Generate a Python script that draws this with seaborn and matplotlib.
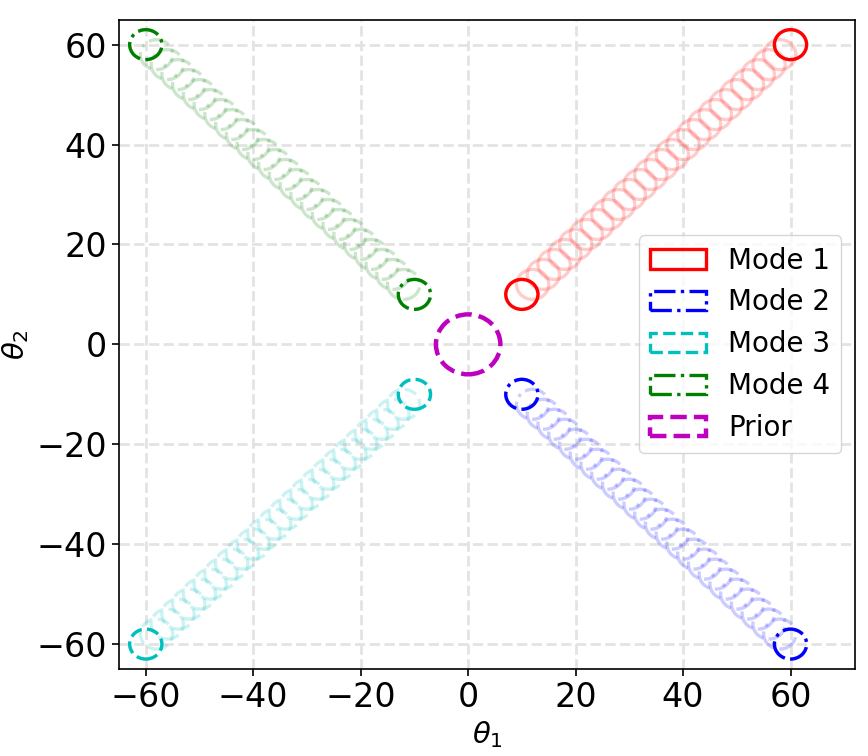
import matplotlib
matplotlib.use("Agg")
import matplotlib.pyplot as plt
from matplotlib.patches import Ellipse
import seaborn as sns

# centres along each mode path (distance from origin along the diagonal)
PATH_STEPS = [10, 12, 14, 16, 18, 20, 22, 24, 26, 28, 30, 32, 34, 36,
              38, 40, 42, 44, 46, 48, 50, 52, 54, 56, 58, 60]
MODE_NAMES = ["Mode 1", "Mode 2", "Mode 3", "Mode 4"]
MODE_SIGNS = [(1, 1), (1, -1), (-1, -1), (-1, 1)]
MODE_COLORS = ["#ff0000", "#0000ff", "#00bfbf", "#008000"]
MODE_STYLES = ["-", "-.", "--", "-."]
MODE_RADIUS = 3
PRIOR_CENTER = (0, 0)
PRIOR_RADIUS = 6
PRIOR_COLOR = "#bf00bf"

sns.set_style("ticks")
plt.rcParams["text.color"] = "black"
plt.rcParams["axes.labelcolor"] = "black"

fig, ax = plt.subplots(figsize=(8.68, 7.56), dpi=100)

LW = 2.4
handles = []
for name, (sx, sy), col, ls in zip(MODE_NAMES, MODE_SIGNS, MODE_COLORS, MODE_STYLES):
    # faint trail of circles
    for s in PATH_STEPS:
        ax.add_patch(Ellipse((sx * s, sy * s), 2 * MODE_RADIUS, 2 * MODE_RADIUS,
                             fill=False, edgecolor=col, linestyle=ls,
                             linewidth=LW, alpha=0.2))
    # start and end in full colour
    for s in (PATH_STEPS[0], PATH_STEPS[-1]):
        ax.add_patch(Ellipse((sx * s, sy * s), 2 * MODE_RADIUS, 2 * MODE_RADIUS,
                             fill=False, edgecolor=col, linestyle=ls, linewidth=LW))
    handles.append(Ellipse((0, 0), 1, 1, fill=False, edgecolor=col,
                           linestyle=ls, linewidth=LW, label=name))

ax.add_patch(Ellipse(PRIOR_CENTER, 2 * PRIOR_RADIUS, 2 * PRIOR_RADIUS, fill=False,
                     edgecolor=PRIOR_COLOR, linestyle="--", linewidth=3.2))
handles.append(Ellipse((0, 0), 1, 1, fill=False, edgecolor=PRIOR_COLOR,
                       linestyle="--", linewidth=3.2, label="Prior"))

ax.set_xlim(-65, 72)
ax.set_ylim(-65, 65)
ax.set_xticks([-60, -40, -20, 0, 20, 40, 60])
ax.set_yticks([-60, -40, -20, 0, 20, 40, 60])
ax.grid(True, linestyle="--", linewidth=2, color="#e3e3e3")
ax.set_axisbelow(True)
for sp in ax.spines.values():
    sp.set_color("black")
    sp.set_linewidth(1.2)
ax.tick_params(labelsize=24, colors="black", width=1.2, length=5)
ax.set_xlabel(r"$\theta_1$", fontsize=21)
ax.set_ylabel(r"$\theta_2$", fontsize=21)

ax.legend(handles=handles, loc="center right", fontsize=20)

fig.subplots_adjust(left=0.137, right=0.985, top=0.974, bottom=0.115)
fig.savefig("out.png", dpi=100)
